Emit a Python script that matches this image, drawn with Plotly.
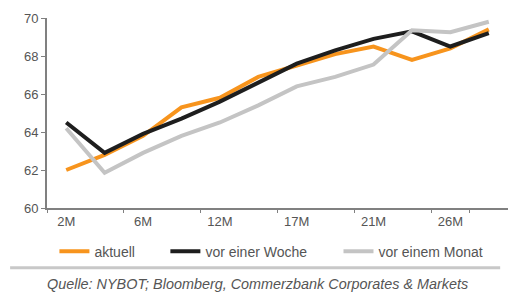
import plotly.graph_objects as go

categories = ["2M", "4M", "6M", "9M", "12M", "14M", "17M", "19M", "21M", "24M", "26M", "28M"]
tick_labels = ["2M", "6M", "12M", "17M", "21M", "26M"]
aktuell = [62.0, 62.8, 63.8, 65.3, 65.8, 66.9, 67.5, 68.1, 68.5, 67.8, 68.4, 69.4]
vor_einer_woche = [64.5, 62.9, 63.9, 64.7, 65.6, 66.6, 67.6, 68.3, 68.9, 69.3, 68.5, 69.2]
vor_einem_monat = [64.2, 61.85, 62.9, 63.8, 64.5, 65.4, 66.4, 66.9, 67.55, 69.35, 69.25, 69.8]

series = [
    ("aktuell", aktuell, "#f7941d", "legend"),
    ("vor einer Woche", vor_einer_woche, "#1e1e1e", "legend2"),
    ("vor einem Monat", vor_einem_monat, "#c4c4c4", "legend3"),
]

FONT = "Arial, Liberation Sans, sans-serif"

fig = go.Figure()
for name, vals, col, lg in series:
    fig.add_trace(go.Scatter(x=categories, y=vals, name=name, mode="lines",
                             line=dict(color=col, width=4), legend=lg))

leg_common = dict(orientation="h", xanchor="left", y=-0.23, yanchor="middle",
                  font=dict(size=14, color="#555555"), bgcolor="rgba(0,0,0,0)")

fig.update_layout(
    width=508, height=293,
    margin=dict(l=47, r=0, t=18, b=85),
    paper_bgcolor="white", plot_bgcolor="white",
    font=dict(family=FONT, size=13, color="#555555"),
    showlegend=True,
    legend=dict(x=0.0161, **leg_common),
    legend2=dict(x=0.2568, **leg_common),
    legend3=dict(x=0.6323, **leg_common),
    xaxis=dict(type="category", range=[-0.5, 11.5], showgrid=False,
               showline=True, linecolor="#808080", linewidth=2,
               ticks="outside", ticklen=3, tickcolor="#808080", tickson="boundaries",
               tickvals=tick_labels, ticktext=tick_labels,
               tickfont=dict(size=13, color="#555555")),
    yaxis=dict(range=[60, 70], dtick=2, showgrid=False, zeroline=False,
               showline=True, linecolor="#808080", linewidth=2,
               ticks="outside", ticklen=4, tickcolor="#808080",
               tickfont=dict(size=13, color="#555555")),
    shapes=[dict(type="line", xref="paper", yref="paper", x0=-0.08, x1=0.983,
                 y0=-0.314, y1=-0.314, line=dict(color="#c8c8c8", width=3))],
    annotations=[dict(text="Quelle: NYBOT; Bloomberg, Commerzbank Corporates & Markets",
                      xref="paper", yref="paper", x=-0.004, y=-0.398,
                      xanchor="left", yanchor="middle", showarrow=False,
                      font=dict(family=FONT, size=14.4, color="#555555", style="italic"))],
)

fig.write_html("out.html", config={"displayModeBar": False},
               post_script="document.body.style.margin='0';")
